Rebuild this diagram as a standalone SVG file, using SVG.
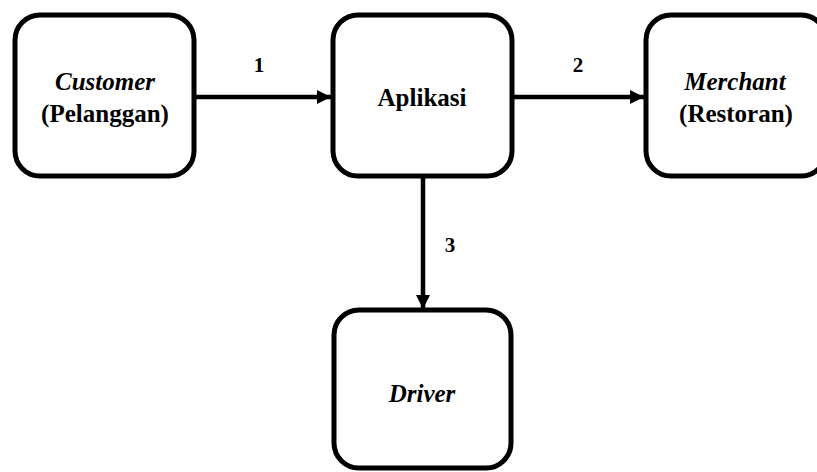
<svg xmlns="http://www.w3.org/2000/svg" width="817" height="472" viewBox="0 0 817 472">
  <style>
    .box { fill: #ffffff; stroke: #000000; stroke-width: 5; }
    .edge { stroke: #000000; stroke-width: 4.5; fill: none; }
  </style>
  <defs>
    <marker id="arrow" viewBox="0 0 14 14" refX="14" refY="7" markerWidth="14" markerHeight="14" markerUnits="userSpaceOnUse" orient="auto">
      <path d="M0,0 L14,7 L0,14 Z" fill="#000000"/>
    </marker>
  </defs>
  <rect width="817" height="472" fill="#ffffff"/>

  <g id="connectors" font-family="'Liberation Serif', 'DejaVu Serif', serif" font-weight="bold" font-size="21" text-anchor="middle" fill="#000000">
    <line class="edge" x1="194" y1="97" x2="331" y2="97" marker-end="url(#arrow)"/>
    <line class="edge" x1="512" y1="97" x2="644" y2="97" marker-end="url(#arrow)"/>
    <line class="edge" x1="423" y1="176" x2="423" y2="309" marker-end="url(#arrow)"/>
    <text x="259" y="72">1</text>
    <text x="578" y="72">2</text>
    <text x="450" y="252">3</text>
  </g>

  <g font-family="'Liberation Serif', 'DejaVu Serif', serif" font-weight="bold" font-size="25" text-anchor="middle" fill="#000000">
    <g id="customer">
      <rect class="box" x="15" y="15" width="179" height="161" rx="25" ry="25"/>
      <text x="105" y="90" font-style="italic">Customer</text>
      <text x="105" y="122">(Pelanggan)</text>
    </g>

    <g id="aplikasi">
      <rect class="box" x="333" y="15" width="179" height="161" rx="25" ry="25"/>
      <text x="422" y="106">Aplikasi</text>
    </g>

    <g id="merchant">
      <rect class="box" x="646" y="15" width="180" height="161" rx="25" ry="25"/>
      <text x="735" y="90" font-style="italic">Merchant</text>
      <text x="736" y="122">(Restoran)</text>
    </g>

    <g id="driver">
      <rect class="box" x="334" y="310" width="177" height="158" rx="25" ry="25"/>
      <text x="422" y="402" font-style="italic">Driver</text>
    </g>
  </g>
</svg>
